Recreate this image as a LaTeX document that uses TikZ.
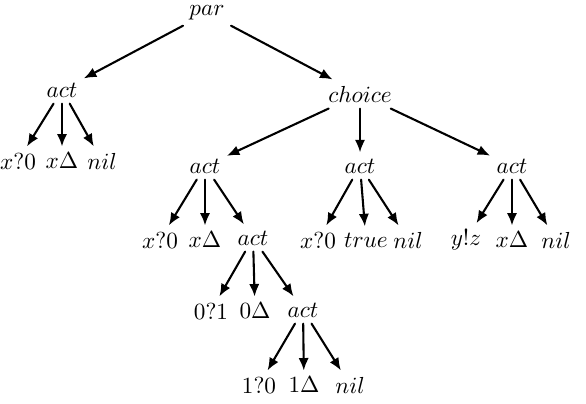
\documentclass[tikz,border=0pt]{standalone}
\usepackage{amsmath,amssymb}
\usetikzlibrary{arrows.meta}
\tikzset{term/.style={inner sep=2.6pt},edge/.style={-{Latex[length=1.9mm,width=1.55mm]},line width=0.9pt},every picture/.style={line cap=round}}
\begin{document}
\begin{tikzpicture}[x=0.431pt,y=-0.431pt]
\useasboundingbox (0,0) rectangle (586,404);
\node[term] (par) at (207,13) {$par$};
\node[term] (la) at (62,90) {$act$}; \node[term] (ch) at (360,94) {$choice$};
\draw[edge] (par)--(la); \draw[edge] (par)--(ch);
\foreach \i/\x/\t in {1/18/x?0,2/62/x\Delta,3/102/nil}{\node[term] (l\i) at (\x,161) {$\t$}; \draw[edge] (la)--(l\i);}
\foreach \n/\x in {a/205,b/360,c/512}{\node[term] (c\n) at (\x,166) {$act$}; \draw[edge] (ch)--(c\n);}
\foreach \i/\x/\t in {1/160/x?0,2/205/x\Delta}{\node[term] (a\i) at (\x,240) {$\t$}; \draw[edge] (ca)--(a\i);}
\node[term] (a3) at (253,238) {$act$}; \draw[edge] (ca)--(a3);
\foreach \i/\x/\t in {1/318/x?0,2/366/true,3/408/nil}{\node[term] (b\i) at (\x,240) {$\t$}; \draw[edge] (cb)--(b\i);}
\foreach \i/\x/\t in {1/466/y!z,2/512/x\Delta,3/556/nil}{\node[term] (k\i) at (\x,240) {$\t$}; \draw[edge] (cc)--(k\i);}
\foreach \i/\x/\t in {1/211/0?1,2/255/0\Delta}{\node[term] (d\i) at (\x,311) {$\t$}; \draw[edge] (a3)--(d\i);}
\node[term] (d3) at (303,310) {$act$}; \draw[edge] (a3)--(d3);
\foreach \i/\x/\t in {1/259/1?0,2/304/1\Delta,3/350/nil}{\node[term] (e\i) at (\x,385) {$\t$}; \draw[edge] (d3)--(e\i);}
\end{tikzpicture}
\end{document}
